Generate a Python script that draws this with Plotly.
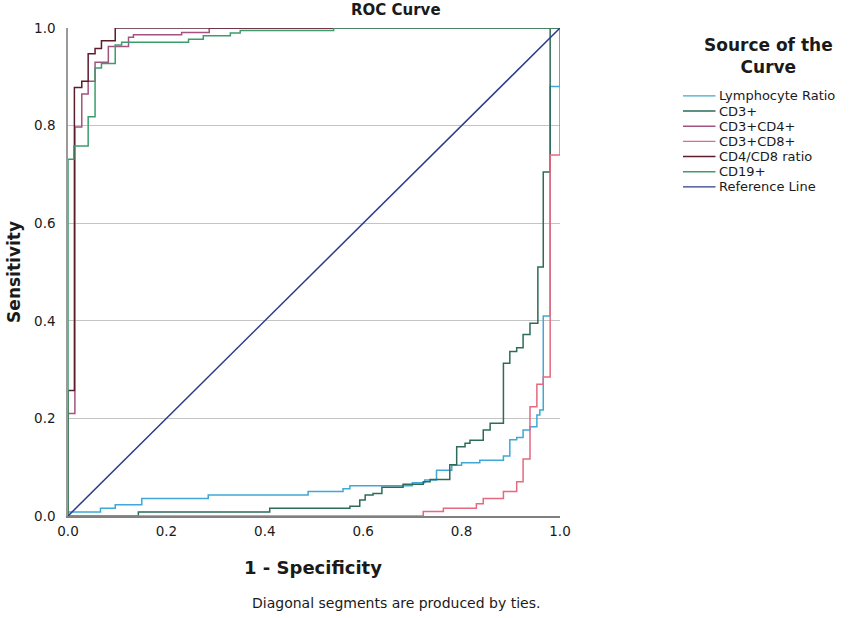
import plotly.graph_objects as go

# ROC step curves: points are (1 - specificity, sensitivity)
# at each step, drawn with an "hv" step shape
lymph_x = [0, 0, 0.066, 0.096, 0.15, 0.285, 0.488, 0.559, 0.573, 0.70, 0.725, 0.749,
           0.78, 0.80, 0.837, 0.885, 0.898, 0.912, 0.925, 0.939, 0.953, 0.959, 0.966,
           0.98, 1.0, 1.0]
lymph_y = [0, 0.008, 0.016, 0.023, 0.036, 0.043, 0.05, 0.056, 0.062, 0.068, 0.074, 0.094,
           0.104, 0.109, 0.114, 0.123, 0.156, 0.161, 0.176, 0.183, 0.207, 0.217, 0.41,
           0.88, 0.88, 1.0]

cd3_x = [0, 0.143, 0.41, 0.573, 0.593, 0.604, 0.62, 0.638, 0.681, 0.722, 0.736, 0.776,
         0.79, 0.807, 0.817, 0.844, 0.858, 0.885, 0.898, 0.912, 0.925, 0.939, 0.955,
         0.966, 0.98, 1.0]
cd3_y = [0, 0.008, 0.016, 0.02, 0.033, 0.043, 0.046, 0.059, 0.065, 0.07, 0.075, 0.105,
         0.142, 0.149, 0.155, 0.176, 0.19, 0.313, 0.337, 0.345, 0.372, 0.395, 0.51,
         0.705, 1.0, 1.0]

cd3cd4_x = [0, 0, 0.014, 0.028, 0.041, 0.055, 0.082, 0.123, 0.133, 0.231, 0.287, 1.0]
cd3cd4_y = [0, 0.21, 0.797, 0.865, 0.891, 0.93, 0.962, 0.981, 0.986, 0.991, 1.0, 1.0]

cd3cd8_x = [0, 0.722, 0.763, 0.83, 0.844, 0.885, 0.912, 0.925, 0.939, 0.953, 0.966,
            0.98, 1.0, 1.0]
cd3cd8_y = [0, 0.009, 0.016, 0.025, 0.036, 0.05, 0.07, 0.117, 0.224, 0.27, 0.285,
            0.74, 0.74, 1.0]

cd4cd8_x = [0, 0, 0.013, 0.028, 0.041, 0.055, 0.068, 0.096, 1.0]
cd4cd8_y = [0, 0.257, 0.878, 0.891, 0.947, 0.958, 0.974, 1.0, 1.0]

cd19_x = [0, 0, 0.012, 0.041, 0.055, 0.068, 0.096, 0.109, 0.245, 0.275, 0.33, 0.35,
          0.54, 1.0]
cd19_y = [0, 0.731, 0.758, 0.818, 0.918, 0.927, 0.965, 0.971, 0.977, 0.984, 0.99, 0.995,
          1.0, 1.0]

ref_x = [0, 1]
ref_y = [0, 1]

names = ["Lymphocyte Ratio", "CD3+", "CD3+CD4+", "CD3+CD8+", "CD4/CD8 ratio", "CD19+",
         "Reference Line"]
colors = ["#3ea8d6", "#2d6b5a", "#a4527f", "#e5697f", "#5a1d2c", "#3c9d6c", "#2b3b8c"]
tick_vals = [0, 0.2, 0.4, 0.6, 0.8, 1.0]
tick_text = ["0.0", "0.2", "0.4", "0.6", "0.8", "1.0"]

series = [(lymph_x, lymph_y), (cd3_x, cd3_y), (cd3cd4_x, cd3cd4_y), (cd3cd8_x, cd3cd8_y),
          (cd4cd8_x, cd4cd8_y), (cd19_x, cd19_y), (ref_x, ref_y)]

FONT = "DejaVu Sans"

fig = go.Figure()
for (xs, ys), name, col in zip(series, names, colors):
    shape = "linear" if name == "Reference Line" else "hv"
    fig.add_trace(go.Scatter(x=xs, y=ys, name=name, mode="lines",
                             line=dict(color=col, width=1.5, shape=shape),
                             showlegend=False, cliponaxis=False))

# hand-made legend so the rows sit as tight as in the original
leg_top = 0.861
leg_step = 0.0311
for i, (name, col) in enumerate(zip(names, colors)):
    yy = leg_top - i * leg_step
    fig.add_shape(type="line", xref="paper", yref="paper", x0=1.25, x1=1.316,
                  y0=yy, y1=yy, line=dict(color=col, width=1.4))
    fig.add_annotation(x=1.32, y=yy, xref="paper", yref="paper", text=name,
                       showarrow=False, xanchor="left", yanchor="middle",
                       font=dict(family=FONT, size=13, color="#1a1a1a"))

fig.add_annotation(x=1.423, y=0.943, xref="paper", yref="paper",
                   text="<b>Source of the<br>Curve</b>", showarrow=False,
                   xanchor="center", yanchor="middle", align="center",
                   font=dict(family=FONT, size=17, color="#1a1a1a"))

fig.add_annotation(x=0.667, y=1.037, xref="paper", yref="paper", text="<b>ROC Curve</b>",
                   showarrow=False, xanchor="center", yanchor="middle",
                   font=dict(family=FONT, size=15, color="#1a1a1a"))
fig.add_annotation(x=-0.11, y=0.5, xref="paper", yref="paper", text="<b>Sensitivity</b>",
                   showarrow=False, textangle=-90, xanchor="center", yanchor="middle",
                   font=dict(family=FONT, size=17, color="#1a1a1a"))
fig.add_annotation(x=0.498, y=-0.105, xref="paper", yref="paper",
                   text="<b>1 - Specificity</b>", showarrow=False,
                   xanchor="center", yanchor="middle",
                   font=dict(family=FONT, size=18, color="#1a1a1a"))
fig.add_annotation(x=0.667, y=-0.178, xref="paper", yref="paper",
                   text="Diagonal segments are produced by ties.", showarrow=False,
                   xanchor="center", yanchor="middle",
                   font=dict(family=FONT, size=14, color="#1a1a1a"))

fig.update_xaxes(range=[0, 1], tickvals=tick_vals, ticktext=tick_text, showgrid=False,
                 zeroline=False, showline=True, linecolor="#808080", linewidth=2,
                 ticks="", ticklabelstandoff=2,
                 tickfont=dict(family=FONT, size=13.5, color="#1a1a1a"))
fig.update_yaxes(range=[0, 1], tickvals=tick_vals, ticktext=tick_text, showgrid=True,
                 gridcolor="#c4c4c4", gridwidth=1, zeroline=False, showline=True,
                 linecolor="#9a9a9a", linewidth=1.5, ticks="", ticklabelstandoff=8,
                 tickfont=dict(family=FONT, size=13.5, color="#1a1a1a"))

fig.update_layout(width=864, height=618, margin=dict(l=68, r=304, t=28, b=102),
                  plot_bgcolor="white", paper_bgcolor="white", showlegend=False,
                  font=dict(family=FONT))

# drop the browser's default 8px body margin so the figure fills the window
fig.write_html("out.html", config={"displayModeBar": False},
               post_script="document.body.style.margin='0';")
